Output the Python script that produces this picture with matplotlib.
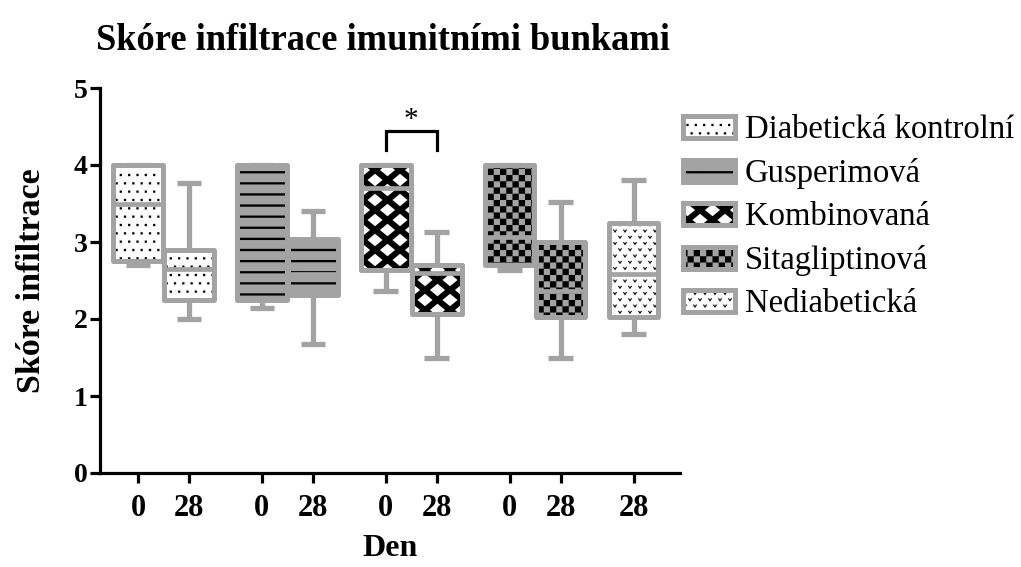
import numpy as np
import matplotlib
matplotlib.use("Agg")
import matplotlib.pyplot as plt
import matplotlib.hatch as mhatch
from matplotlib.path import Path
from matplotlib.patches import Patch

# ---------------- data ----------------
groups = ["Diabetická kontrolní", "Gusperimová", "Kombinovaná",
          "Sitagliptinová", "Nediabetická"]
box_group = [0, 0, 1, 1, 2, 2, 3, 3, 4]
box_day = ["0", "28", "0", "28", "0", "28", "0", "28", "28"]
whislo = [2.70, 2.00, 2.14, 1.67, 2.37, 1.50, 2.64, 1.50, 1.80]
q1 = [2.75, 2.25, 2.25, 2.31, 2.63, 2.06, 2.70, 2.02, 2.02]
med = [3.50, 2.65, 3.27, 2.58, 3.70, 2.60, 3.07, 2.37, 2.58]
q3 = [4.00, 2.89, 4.00, 3.04, 4.00, 2.70, 4.00, 3.00, 3.25]
whishi = [4.00, 3.76, 4.00, 3.40, 4.00, 3.13, 4.00, 3.52, 3.80]
sig_pair = (4, 5)  # Kombinovaná 0 vs 28
sig_label = "*"

# ---------------- custom hatch patterns ----------------
def _dots():
    polys = []
    n = 12
    s = 0.011
    for r in range(-1, n + 2):
        shift = 0.5 / n if r % 2 else 0.0
        for c in range(-1, n + 2):
            x = c / n + shift
            y = r / n
            polys.append([(x - s, y - s), (x + s, y - s), (x + s, y + s), (x - s, y + s)])
    return polys

def _hlines():
    polys = []
    n = 9
    h = 0.011
    for r in range(n):
        y = (r + 0.5) / n
        polys.append([(0, y - h), (1, y - h), (1, y + h), (0, y + h)])
    return polys

def _diamonds():
    polys = []
    nc, nr = 4, 5
    dx, dy = 0.075, 0.062
    for r in range(-1, 2 * nr + 2):
        shift = 0.5 / nc if r % 2 else 0.0
        y = r / (2 * nr)
        for c in range(-1, nc + 2):
            x = c / nc + shift
            polys.append([(x - dx, y), (x, y - dy), (x + dx, y), (x, y + dy)])
    return polys

def _checker():
    polys = []
    n = 16
    for r in range(n):
        for c in range(n):
            if (r + c) % 2 == 0:
                polys.append([(c / n, r / n), ((c + 1) / n, r / n),
                              ((c + 1) / n, (r + 1) / n), (c / n, (r + 1) / n)])
    return polys

def _vmarks():
    polys = []
    nc, nr = 10, 16
    for r in range(-1, nr + 2):
        shift = 0.5 / nc if r % 2 else 0.0
        y = r / nr
        for c in range(-1, nc + 2):
            x = c / nc + shift
            polys.append([(x - 0.022, y + 0.016), (x - 0.009, y + 0.016), (x, y + 0.002),
                          (x + 0.009, y + 0.016), (x + 0.022, y + 0.016), (x, y - 0.016)])
    return polys

PATTERNS = {".": _dots, "-": _hlines, "x": _diamonds, "+": _checker, "*": _vmarks}

class TileHatch(mhatch.HatchPatternBase):
    def __init__(self, hatch, density):
        self.polys = []
        for ch, gen in PATTERNS.items():
            if ch in hatch:
                self.polys += gen()
        self.num_vertices = sum(len(p) + 1 for p in self.polys)

    def set_vertices_and_codes(self, vertices, codes):
        i = 0
        for p in self.polys:
            n = len(p)
            vertices[i:i + n] = p
            vertices[i + n] = p[0]
            codes[i] = Path.MOVETO
            codes[i + 1:i + n] = Path.LINETO
            codes[i + n] = Path.CLOSEPOLY
            i += n + 1

mhatch._hatch_types[:] = [TileHatch]

# ---------------- style ----------------
plt.rcParams["font.family"] = ["Liberation Serif", "DejaVu Serif"]
plt.rcParams["hatch.linewidth"] = 0.05
GRAY = "#a3a3a3"
styles = [  # face, hatch colour, hatch
    ("white", "black", "."),
    (GRAY, "black", "-"),
    ("black", "white", "x"),
    (GRAY, "black", "+"),
    ("white", "black", "*"),
]

fig = plt.figure(figsize=(10.21, 5.67), dpi=100)
ax = fig.add_axes([100 / 1021, 1 - 473 / 567, 580 / 1021, 385 / 567])

# positions: slots with a gap between groups
positions = []
prev_g = None
x = 0.0
for i, g in enumerate(box_group):
    if prev_g is not None:
        x += 1.0 if g == prev_g else 1.43
    positions.append(x)
    prev_g = g

width = 0.97
for i in range(len(q1)):
    face, hcol, h = styles[box_group[i]]
    ax.bar(positions[i], q3[i] - q1[i], bottom=q1[i], width=width,
           color=face, edgecolor=hcol, linewidth=0, hatch=h, zorder=2)

stats = [dict(whislo=whislo[i], q1=q1[i], med=med[i], q3=q3[i], whishi=whishi[i])
         for i in range(len(q1))]
ax.bxp(stats, positions=positions, widths=width, patch_artist=True,
       showfliers=False, manage_ticks=False,
       boxprops=dict(facecolor="none", edgecolor=GRAY, linewidth=3.6,
                     joinstyle="round", zorder=3),
       medianprops=dict(color=GRAY, linewidth=3.4, solid_capstyle="butt", zorder=3),
       whiskerprops=dict(color=GRAY, linewidth=3.8, solid_capstyle="butt", zorder=1),
       capprops=dict(color=GRAY, linewidth=3.8, solid_capstyle="butt", zorder=1))

# significance bracket
xa, xb = positions[sig_pair[0]], positions[sig_pair[1]]
ax.plot([xa, xa, xb, xb], [4.20, 4.44, 4.44, 4.20], color="black", lw=2.3,
        solid_joinstyle="miter", zorder=4)
ax.text((xa + xb) / 2, 4.42, sig_label, ha="center", va="bottom", fontsize=21)

# axes styling
ax.set_xlim(-0.745, 10.63)
ax.set_ylim(0, 5)
ax.set_yticks([0, 1, 2, 3, 4, 5])
ax.set_xticks(positions)
ax.set_xticklabels(box_day)
for s in ["top", "right"]:
    ax.spines[s].set_visible(False)
for s in ["left", "bottom"]:
    ax.spines[s].set_linewidth(2.3)
ax.tick_params(axis="both", width=2.3, length=7)
ax.tick_params(axis="x", pad=8, labelsize=22)
ax.tick_params(axis="y", pad=2, labelsize=20)
for lab in ax.get_xticklabels() + ax.get_yticklabels():
    lab.set_fontweight("bold")
ax.set_xlabel("Den", fontsize=23, fontweight="bold", labelpad=8)
ax.set_ylabel("Skóre infiltrace", fontsize=24.5, fontweight="bold", labelpad=19)

fig.text(96 / 1021, 1 - 23 / 567, "Skóre infiltrace imunitními bunkami",
         fontsize=26.3, fontweight="bold", ha="left", va="top")

# legend
handles = []
for g in range(len(groups)):
    face, hcol, h = styles[g]
    hp = Patch(facecolor=face, edgecolor=hcol, linewidth=0, hatch=h)
    ep = Patch(facecolor="none", edgecolor=GRAY, linewidth=3.6, joinstyle="round")
    handles.append((hp, ep))
fig.legend(handles, groups, loc="upper left",
           bbox_to_anchor=(683 / 1021, 1 - 115 / 567), frameon=False,
           fontsize=23.5, handlelength=1.6, handleheight=0.68,
           handletextpad=0.3, labelspacing=0.39, borderaxespad=0, borderpad=0)

fig.savefig("out.png", dpi=100)
